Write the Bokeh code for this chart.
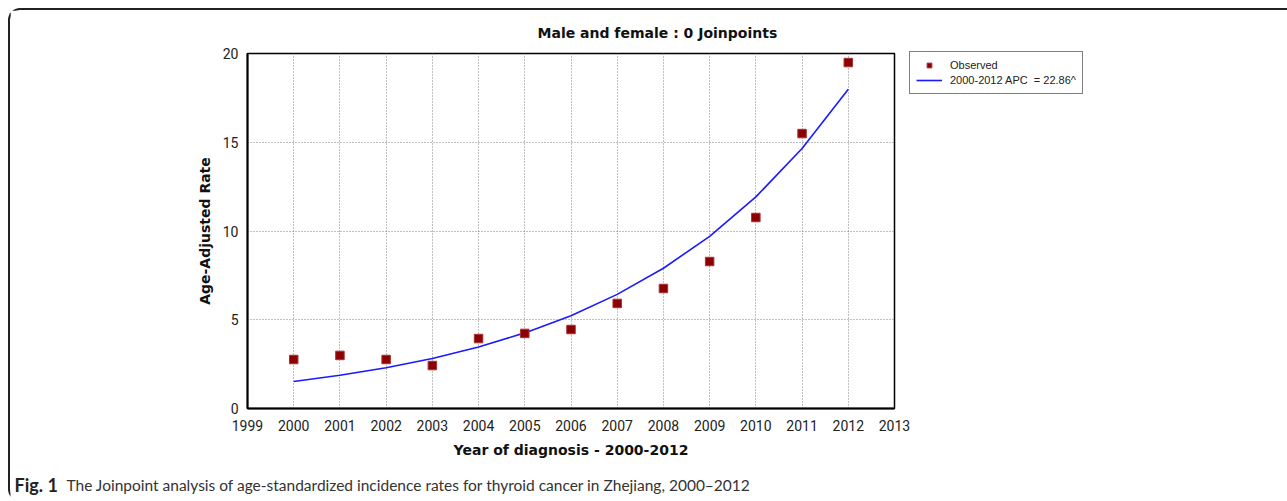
from bokeh.plotting import figure
from bokeh.models import (Legend, LegendItem, FixedTicker, Range1d, ColumnDataSource)
from bokeh.layouts import column, row
from bokeh.core.properties import value
from bokeh.embed import file_html
from bokeh.resources import INLINE

# ---- data ----
years = [2000, 2001, 2002, 2003, 2004, 2005, 2006, 2007, 2008, 2009, 2010, 2011, 2012]
observed = [2.76, 2.99, 2.76, 2.42, 3.94, 4.23, 4.45, 5.92, 6.76, 8.28, 10.76, 15.49, 19.49]
modeled = [1.52, 1.87, 2.30, 2.82, 3.47, 4.26, 5.23, 6.43, 7.90, 9.70, 11.92, 14.65, 17.99]
x_ticks = list(range(1999, 2014))
y_ticks = [0, 5, 10, 15, 20]

title_text = "Male and female : 0 Joinpoints"
x_label = "Year of diagnosis - 2000-2012"
y_label = "Age-Adjusted Rate"
legend_obs = "Observed"
legend_fit = "2000-2012 APC  = 22.86^"
caption_bold = "Fig. 1"
caption_text = "The Joinpoint analysis of age-standardized incidence rates for thyroid cancer in Zhejiang, 2000\u20132012"

# ---- layout constants (pixels inside the bordered box) ----
W = 1277
FL, FW, FT, FH = 237, 647, 43, 355
H1 = 456
H2 = 35

BOLD_FONT = "DejaVu Sans"
TICK_FONT = "Roboto"

fig = figure(frame_width=FW, frame_height=FH, min_border_left=FL, min_border_top=FT,
             min_border_right=W - FL - FW, min_border_bottom=H1 - FT - FH,
             x_range=Range1d(1999, 2013), y_range=Range1d(0, 20),
             output_backend="svg", toolbar_location=None,
             background_fill_color="white", border_fill_color="white")

fig.outline_line_color = "black"
fig.outline_line_width = 1.5

fig.title.text = title_text
fig.title.align = "left"
fig.title.offset = 290
fig.title.standoff = 25
fig.title.text_font = BOLD_FONT
fig.title.text_font_style = "bold"
fig.title.text_font_size = "14px"
fig.title.text_color = "#111111"

for ax in (fig.xaxis[0], fig.yaxis[0]):
    ax.major_tick_line_color = None
    ax.minor_tick_line_color = None
    ax.axis_line_color = "black"
    ax.axis_line_width = 2
    ax.major_label_text_font = TICK_FONT
    ax.major_label_text_font_size = "14px"
    ax.major_label_text_color = "#222222"
    ax.axis_label_text_font = BOLD_FONT
    ax.axis_label_text_font_style = "bold"
    ax.axis_label_text_font_size = "14px"
    ax.axis_label_text_color = "#111111"

fig.xaxis.ticker = FixedTicker(ticks=x_ticks)
fig.yaxis.ticker = FixedTicker(ticks=y_ticks)
fig.xaxis.axis_label = x_label
fig.yaxis.axis_label = y_label
fig.xaxis.major_label_standoff = 5
fig.yaxis.major_label_standoff = 3
fig.xaxis.axis_label_standoff = 8
fig.yaxis.axis_label_standoff = 7

for g in (fig.xgrid[0], fig.ygrid[0]):
    g.grid_line_color = "#808080"
    g.grid_line_dash = "1 2"
    g.grid_line_width = 1
fig.xgrid.ticker = FixedTicker(ticks=x_ticks)
fig.ygrid.ticker = FixedTicker(ticks=y_ticks)

src = ColumnDataSource(dict(x=years, obs=observed, fit=modeled))
fit_r = fig.line("x", "fit", source=src, line_color="#1a1aff", line_width=1.6)
obs_r = fig.scatter("x", "obs", source=src, marker="square", size=8.5,
                    fill_color="#8b0000", line_color="#a83232", line_width=1)

legend = Legend(items=[LegendItem(label=legend_obs, renderers=[obs_r]),
                       LegendItem(label=legend_fit, renderers=[fit_r])],
                location=(15, 314), border_line_color="black", border_line_width=1.2,
                label_text_font="Liberation Sans", label_text_font_size="11px",
                label_text_color="#222222", glyph_width=26, glyph_height=12,
                label_height=14, label_standoff=8, spacing=1, padding=6, margin=0,
                background_fill_alpha=1)
fig.add_layout(legend, "right")

# ---- caption strip ----
cap = figure(width=W, height=H2, x_range=Range1d(0, W), y_range=Range1d(H2, 0),
             min_border=0, output_backend="svg", toolbar_location=None,
             background_fill_color="white", border_fill_color="white")
cap.axis.visible = False
cap.grid.visible = False
cap.outline_line_color = None
cap.text(x=[4], y=[18], text=[caption_bold], text_font=value("Lato"),
         text_font_style="bold", text_font_size="18px", text_color="#222222",
         text_baseline="middle", text_align="left")
cap.text(x=[56], y=[18], text=[caption_text], text_font=value("Lato"),
         text_font_size="15.5px", text_color="#333333",
         text_baseline="middle", text_align="left")

p = column(fig, row(cap), spacing=0,
           styles={"margin": "8px 0 0 8px",
                   "border-top": "2px solid #222222",
                   "border-left": "2px solid #222222",
                   "border-top-left-radius": "12px",
                   "border-bottom-left-radius": "12px"})

open("out.html", "w").write(file_html(p, INLINE))
